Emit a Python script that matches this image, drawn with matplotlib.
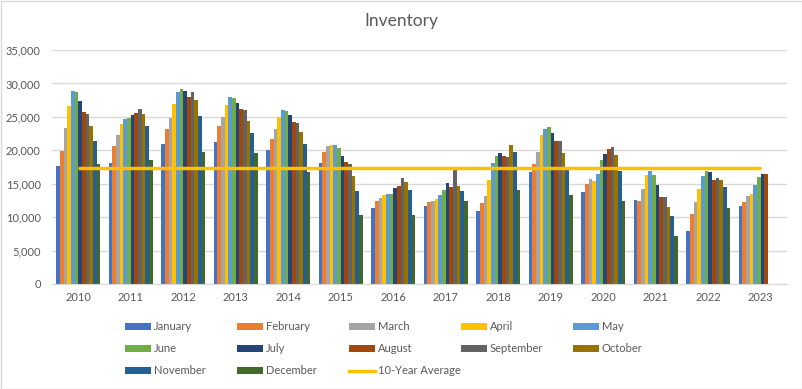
import numpy as np
import matplotlib
matplotlib.use("Agg")
import matplotlib.pyplot as plt
from matplotlib.patches import Patch, Rectangle
from matplotlib.lines import Line2D
from matplotlib.ticker import FuncFormatter

# --- data ---
years = ["2010", "2011", "2012", "2013", "2014", "2015", "2016",
         "2017", "2018", "2019", "2020", "2021", "2022", "2023"]
nan = np.nan
january = [17630, 18080, 20920, 21210, 20020, 18080, 11350, 11650, 10910, 16730, 13740, 12550, 7920, 11650]
february = [19870, 20620, 23160, 23610, 21660, 19720, 12400, 12250, 12100, 17930, 14940, 12400, 10460, 12250]
march = [23310, 22260, 24800, 24950, 23160, 20620, 12850, 12400, 13150, 19720, 15690, 14190, 12250, 13150]
april = [26590, 23900, 26890, 26740, 24950, 20770, 13300, 12700, 15540, 22260, 15390, 16280, 14190, 13450]
may = [28830, 24650, 28680, 27940, 26000, 20770, 13450, 13300, 18080, 23160, 16430, 16880, 16140, 14790]
june = [28680, 24800, 29130, 27790, 25850, 20320, 13450, 14040, 19120, 23460, 18530, 16280, 16880, 15990]
july = [27340, 25250, 28830, 27040, 25250, 19120, 14340, 15090, 19570, 22560, 19420, 14790, 16730, 16430]
august = [25700, 25550, 27940, 26150, 24200, 18230, 14640, 14490, 19120, 21360, 20170, 13000, 15540, 16430]
september = [25400, 26150, 28680, 26000, 24050, 17930, 15840, 17030, 18970, 21360, 20470, 13000, 15840, nan]
october = [23610, 25400, 27490, 24350, 22710, 16140, 15240, 14640, 20770, 19570, 19270, 11500, 15540, nan]
november = [21360, 23600, 25100, 22560, 20920, 13890, 14040, 13890, 19720, 17250, 16880, 10160, 14490, nan]
december = [17930, 18530, 19720, 19570, 16730, 10310, 10310, 12400, 14040, 13300, 12400, 7170, 11350, nan]
ten_year_average = 17400

month_names = ["January", "February", "March", "April", "May", "June", "July",
               "August", "September", "October", "November", "December"]
month_values = [january, february, march, april, may, june, july,
                august, september, october, november, december]
month_colors = ["#4472C4", "#ED7D31", "#A5A5A5", "#FFC000", "#5B9BD5", "#70AD47",
                "#264478", "#9E480E", "#636363", "#997300", "#255E91", "#43682B"]
avg_color = "#FFC000"

plt.rcParams["font.family"] = ["Lato", "DejaVu Sans"]
text_color = "#595959"
grid_color = "#D9D9D9"

fig = plt.figure(figsize=(8.02, 3.89), dpi=100)
ax = fig.add_axes([52 / 802, 1 - 284 / 389, (787 - 52) / 802, (284 - 50) / 389])

x = np.arange(len(years))
bar_w = 0.07
for i, (vals, col) in enumerate(zip(month_values, month_colors)):
    offs = (i - 5.5) * bar_w
    ax.bar(x + offs, vals, width=bar_w, color=col, linewidth=0, zorder=2)

ax.plot([x[0], x[-1]], [ten_year_average, ten_year_average],
        color=avg_color, linewidth=2.5, solid_capstyle="butt", zorder=3)

ax.set_xlim(-0.5, len(years) - 0.5)
ax.set_ylim(0, 35000)
ax.set_yticks(np.arange(0, 35001, 5000))
ax.yaxis.set_major_formatter(FuncFormatter(lambda v, p: f"{int(v):,}"))
ax.set_xticks(x)
ax.set_xticklabels(years)
ax.tick_params(axis="both", length=0, labelsize=8, colors=text_color)
ax.tick_params(axis="x", pad=6)
ax.tick_params(axis="y", pad=8)
ax.grid(axis="y", color=grid_color, linewidth=1, zorder=0)
ax.set_axisbelow(True)
for s in ["top", "right", "left"]:
    ax.spines[s].set_visible(False)
ax.spines["bottom"].set_color(grid_color)

fig.text(0.5, 1 - 21 / 389, "Inventory", ha="center", va="center",
         fontsize=12.5, color=text_color)

# legend: five fixed-width columns, three rows (row-major order like Excel)
handles = [Patch(facecolor=c, edgecolor="none") for c in month_colors]
handles.append(Line2D([0], [0], color=avg_color, linewidth=2.5))
labels = month_names + ["10-Year Average"]
col_x = [125, 237, 349, 461, 573]
for c in range(5):
    idx = [r * 5 + c for r in range(3) if r * 5 + c < len(labels)]
    lg = fig.legend([handles[k] for k in idx], [labels[k] for k in idx],
                    loc="upper left", bbox_to_anchor=(col_x[c] / 802, 1 - 321 / 389),
                    frameon=False, fontsize=8, borderpad=0, borderaxespad=0,
                    handlelength=2.3, handleheight=0.6, handletextpad=0.3,
                    labelspacing=1.0)
    for t in lg.get_texts():
        t.set_color(text_color)

fig.patches.append(Rectangle((0.5 / 802, 0.5 / 389), 801 / 802, 388 / 389,
                             transform=fig.transFigure, fill=False,
                             edgecolor=grid_color, linewidth=1))

fig.savefig("out.png", dpi=100)
